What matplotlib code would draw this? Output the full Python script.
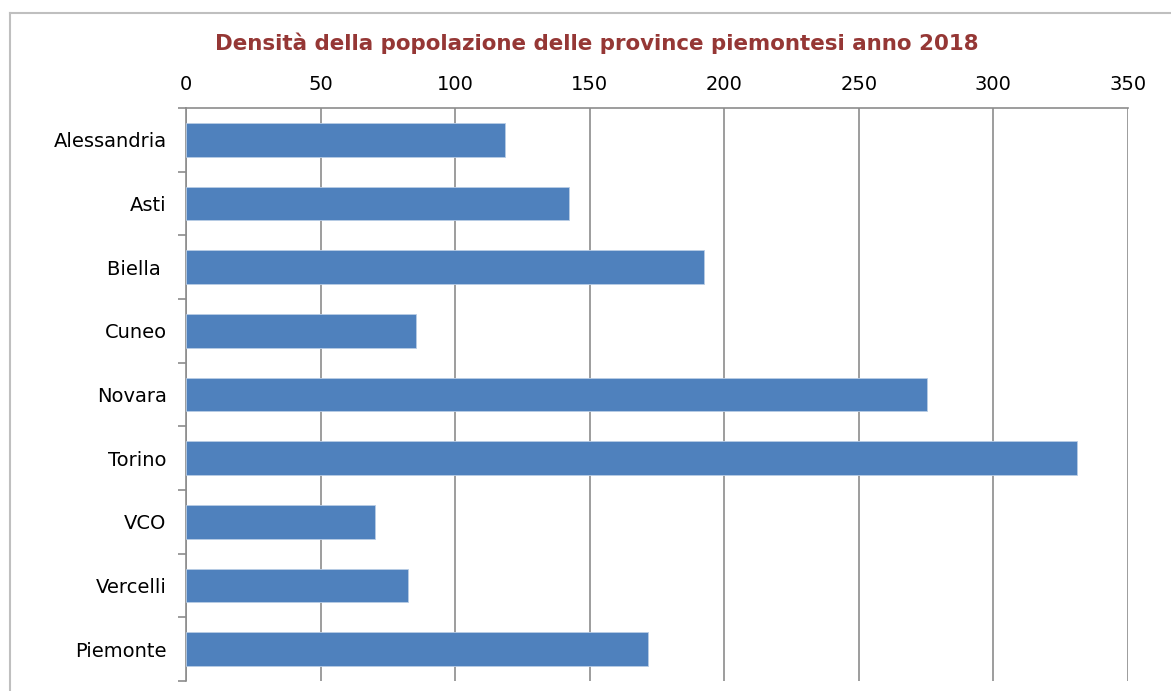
import numpy as np
import matplotlib.pyplot as plt
from matplotlib.lines import Line2D

# data
province = ['Alessandria', 'Asti', 'Biella ', 'Cuneo', 'Novara',
            'Torino', 'VCO', 'Vercelli', 'Piemonte']
densita = [118.5, 142.3, 192.4, 85.3, 275.4, 331.1, 70.1, 82.4, 171.8]
x_ticks = [0, 50, 100, 150, 200, 250, 300, 350]

plt.rcParams['font.family'] = ['DejaVu Sans']

fig = plt.figure(figsize=(11.71, 6.91), dpi=100)
ax = fig.add_axes([186 / 1171, 1 - 681 / 691, (1128 - 186) / 1171, (681 - 108) / 691])

# chart frame: only the top and left edges show, the rest is cropped
fx, fy = 10 / 1171, 1 - 13 / 691
fig.lines.append(Line2D([fx, 1.0], [fy, fy], transform=fig.transFigure,
                        color='#BFBFBF', linewidth=1.5))
fig.lines.append(Line2D([fx, fx], [0.0, fy], transform=fig.transFigure,
                        color='#BFBFBF', linewidth=1.5))

pos = np.arange(len(province))
ax.barh(pos, densita, height=0.53, color='#4F81BD', edgecolor='#B9CDE5',
        linewidth=0.6, zorder=3)

ax.set_xlim(0, 350)
ax.set_ylim(len(province) - 0.5, -0.5)
ax.set_xticks(x_ticks)
ax.xaxis.tick_top()
ax.tick_params(axis='x', length=0, pad=10, labelsize=14, colors='black')
ax.grid(axis='x', color='#8C8C8C', linewidth=1.2, zorder=1)

ax.set_yticks(pos)
ax.set_yticklabels(province)
ax.set_yticks(np.arange(len(province) + 1) - 0.5, minor=True)
ax.tick_params(axis='y', which='major', length=0, pad=14, labelsize=14)
ax.tick_params(axis='y', which='minor', length=6, color='#8C8C8C', width=1.2)

for s in ['right', 'bottom']:
    ax.spines[s].set_visible(False)
for s in ['left', 'top']:
    ax.spines[s].set_color('#8C8C8C')
    ax.spines[s].set_linewidth(1.2)

fig.text(597 / 1171, 1 - 43 / 691,
         'Densità della popolazione delle province piemontesi anno 2018',
         ha='center', va='center', fontsize=15.4, fontweight='bold',
         color='#953735')

fig.savefig('out.png', dpi=100)
